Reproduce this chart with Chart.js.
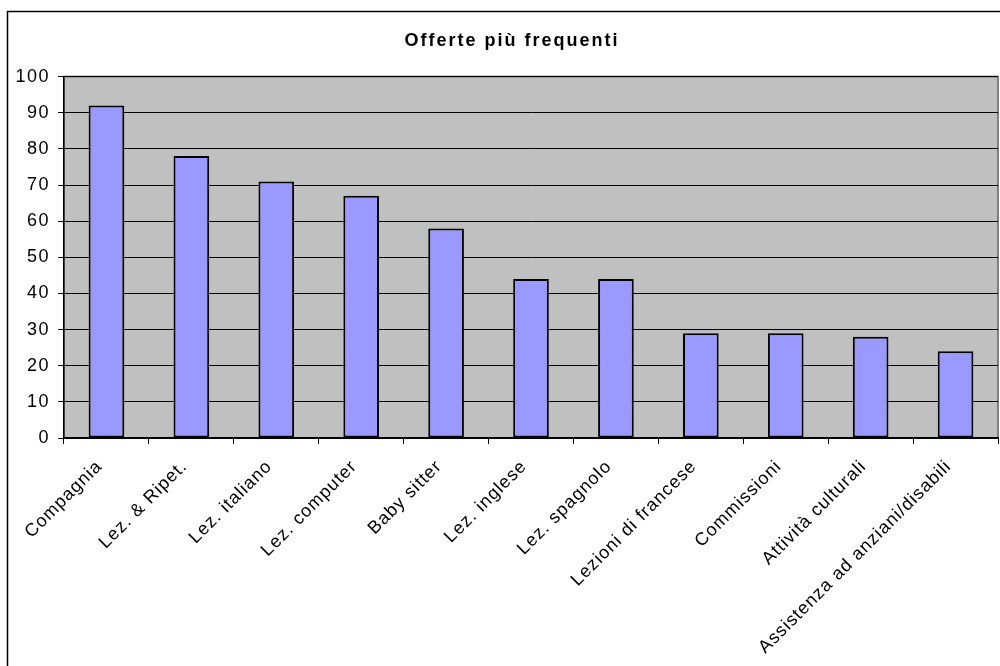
<!DOCTYPE html>
<html>
<head>
<meta charset="utf-8">
<script src="https://cdn.jsdelivr.net/npm/chart.js@4/dist/chart.umd.min.js"></script>
<style>
  html, body { margin: 0; padding: 0; background: #ffffff; }
  #wrap { width: 1000px; height: 666px; position: relative; }
</style>
</head>
<body>
<div id="wrap"><canvas id="c" width="1000" height="666"></canvas></div>
<script>
// Offers by type
const categories = [
  'Compagnia', 'Lez. & Ripet.', 'Lez. italiano', 'Lez. computer', 'Baby sitter',
  'Lez. inglese', 'Lez. spagnolo', 'Lezioni di francese', 'Commissioni',
  'Attività culturali', 'Assistenza ad anziani/disabili'
];
const offerCounts = [92, 78, 71, 67, 58, 44, 44, 29, 29, 28, 24];
const yTicks = [0, 10, 20, 30, 40, 50, 60, 70, 80, 90, 100];
const chartTitle = 'Offerte più frequenti';

const FONT = '"Liberation Sans", Arial, sans-serif';

// Draw a scale's labels with a given letter spacing and offset
function spacedLabels(scale, spacing, dx, dy) {
  if (scale._spaced) return;
  const orig = scale.drawLabels;
  scale.drawLabels = function (area) {
    const ctx = this.ctx;
    ctx.save();
    ctx.letterSpacing = spacing;
    ctx.translate(dx, dy);
    orig.call(this, area);
    ctx.restore();
  };
  scale._spaced = true;
}

// Frame around the whole chart plus grey plot background
const framePlugin = {
  id: 'frame',
  afterLayout(chart) {
    const t = chart.titleBlock;
    if (t && !t._spaced) {
      const orig = t.draw;
      t.draw = function () {
        const ctx = this.ctx;
        ctx.save();
        ctx.letterSpacing = '2px';
        ctx.translate(13, 0);
        orig.apply(this, arguments);
        ctx.restore();
      };
      t._spaced = true;
    }
  },
  beforeDraw(chart) {
    const { ctx, chartArea: a } = chart;
    ctx.save();
    ctx.fillStyle = '#ffffff';
    ctx.fillRect(0, 0, chart.width, chart.height);
    ctx.strokeStyle = '#000000';
    ctx.lineWidth = 1.5;
    ctx.strokeRect(7.5, 11.5, chart.width + 20, chart.height + 20);
    ctx.fillStyle = '#c0c0c0';
    ctx.fillRect(a.left, a.top, a.right - a.left, a.bottom - a.top);
    ctx.strokeStyle = '#808080';
    ctx.lineWidth = 2;
    ctx.strokeRect(a.left, a.top, a.right - a.left, a.bottom - a.top);
    ctx.restore();
  }
};

new Chart(document.getElementById('c'), {
  type: 'bar',
  data: {
    labels: categories,
    datasets: [{
      data: offerCounts,
      backgroundColor: '#9999ff',
      borderColor: '#000000',
      borderWidth: 2,
      borderSkipped: false,
      barPercentage: 0.42,
      categoryPercentage: 1.0
    }]
  },
  options: {
    responsive: false,
    animation: false,
    layout: { padding: { left: 0, right: 2, top: 0, bottom: 0 } },
    plugins: {
      legend: { display: false },
      tooltip: { enabled: false },
      title: {
        display: true,
        text: chartTitle,
        color: '#000000',
        font: { family: FONT, size: 18, weight: 'bold' },
        padding: { top: 30, bottom: 25 }
      }
    },
    scales: {
      x: {
        grid: {
          offset: true,
          drawOnChartArea: false,
          drawTicks: true,
          tickLength: 6,
          color: '#000000'
        },
        border: { display: true, color: '#000000', width: 1.5 },
        ticks: {
          color: '#000000',
          font: { family: FONT, size: 18 },
          minRotation: 45,
          maxRotation: 45,
          autoSkip: false,
          padding: 9
        },
        afterFit(scale) { scale.height = 666 - 438; spacedLabels(scale, '1px', -7, 3); }
      },
      y: {
        min: 0,
        max: 100,
        afterBuildTicks(scale) { scale.ticks = yTicks.map(v => ({ value: v })); },
        grid: {
          color: '#000000',
          lineWidth: 1,
          drawTicks: true,
          tickLength: 6
        },
        border: { display: true, color: '#000000', width: 1.5 },
        ticks: {
          color: '#000000',
          font: { family: FONT, size: 18 },
          padding: 8
        },
        afterFit(scale) { scale.width = 64; spacedLabels(scale, '1.5px', 0, 0); }
      }
    }
  },
  plugins: [framePlugin]
});
</script>
</body>
</html>
